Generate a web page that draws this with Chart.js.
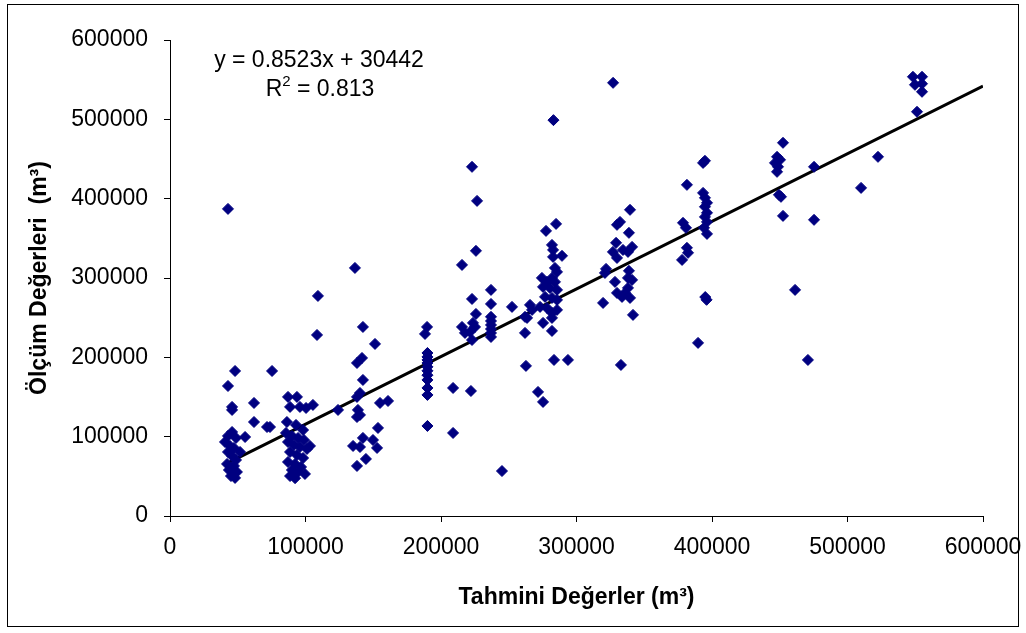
<!DOCTYPE html>
<html>
<head>
<meta charset="utf-8">
<script src="https://cdn.jsdelivr.net/npm/chart.js@4/dist/chart.umd.min.js"></script>
<style>
  body { margin: 0; background: #fff; }
</style>
</head>
<body>
<canvas id="olcumChart" width="1026" height="633"></canvas>
<script>
// tahmini (x) / olcum (y) pairs
const tahmini = [
  42800, 48000, 42800, 45800, 45800, 62000, 62000, 71600, 73800, 75300, 55400, 45800, 42800, 48700,
  40600, 44300, 47200, 51700, 42800, 45800, 48700, 42100, 47200, 43500, 49400, 45000, 48000,
  87100, 93700, 88600, 95900, 100400, 105500, 86300, 93000, 98200, 85600, 90000, 94500, 98900,
  87100, 91500, 95900, 101100, 88600, 93700, 98200, 87100, 92300, 96700, 90000, 94500, 88600,
  92300, 99600, 103300, 109200, 108500, 124000,
  136500, 138000, 141700, 142400, 151300, 142400, 140200, 138000, 138700, 140200, 138000, 135100,
  140200, 142400, 138000, 144600, 149800, 152800, 153500, 155000, 160900,
  189700, 188200, 190000, 190000, 190000, 190000, 190000, 190000, 190000, 190000, 190000, 190000,
  190000, 208900, 222100, 208900, 245000,
  222900, 226600, 225800, 215500, 236900, 222900, 236900, 225800, 223600, 225100, 215500, 217700,
  221400, 222900, 236900, 236900, 236900, 236900, 236900, 236900, 252400,
  262000, 263500, 265700, 267200, 262000, 262700, 271600, 275300, 277500, 284900, 281900, 282700,
  282700, 289300, 284100, 285600, 274500, 278200, 281900, 284100, 275300, 280400, 285600, 276800,
  281900, 285600, 273100, 278200, 281900, 285600, 275300, 281900, 281900, 283400, 293700, 283000,
  327000,
  321800, 321000, 338700, 339500, 332100, 329900, 338700, 329200, 326900, 329900, 334300, 341000,
  338000, 328400, 338000, 341000, 338000, 335800, 329900, 333600, 339500, 319600, 341700, 332800,
  393400, 394800, 381500, 378600, 380800, 381500, 382300, 377900, 393400, 394800, 396300, 394800,
  396300, 394800, 396300, 394100, 396300, 395000, 396000, 389700,
  452400, 448000, 450200, 446500, 448700, 448000, 449400, 450900, 452400, 475300, 475300, 461300,
  470800, 510000, 522500,
  548300, 555000, 549800, 555000, 555000, 551300
];
const olcum = [
  387100, 182800, 163900, 137500, 133700, 142500, 118500, 112200, 112200, 182800, 99600, 105900, 100900, 98400,
  93300, 88300, 85800, 80700, 80700, 75700, 70600, 65600, 63100, 58000, 55500, 50400, 48000,
  150100, 150100, 137500, 137500, 136200, 140000, 118500, 114800, 108400, 104700, 100900, 98400, 95800,
  93300, 89500, 87000, 84500, 80700, 76900, 73100, 68100, 65600, 61800, 58000, 55500, 50400,
  47700, 53000, 88300, 277400, 228200, 133700,
  312700, 192900, 199200, 238300, 216900, 171500, 155100, 150100, 133700, 127400, 124800, 88300,
  87000, 98400, 63100, 71900, 95800, 85800, 111000, 142500, 145000,
  238300, 229500, 205500, 200500, 196700, 192900, 188000, 183000, 177500, 171500, 161400, 152600,
  113500, 161400, 157600, 104700, 56700,
  440100, 397200, 334200, 316500, 285000, 273600, 267300, 254700, 243400, 238300, 238300, 230800,
  232000, 221900, 251000, 245800, 240800, 235700, 230700, 225700, 263600,
  251000, 249700, 266100, 259800, 230800, 189200, 156400, 143800, 359400, 368200, 341700, 335400,
  326600, 327900, 312700, 307700, 300100, 295100, 300100, 295100, 288800, 287500, 285000, 276200,
  274900, 272400, 263600, 262300, 256000, 259800, 243400, 249700, 233300, 196700, 196700, 499000,
  546000,
  311500, 306400, 309000, 385900, 370700, 367000, 356900, 344300, 332900, 325300, 335400, 339200,
  332900, 295100, 300100, 297600, 287500, 281200, 281200, 276200, 274900, 268600, 253500, 190400,
  445100, 447700, 417400, 369500, 363200, 338000, 331700, 322800, 407300, 401000, 394700, 389700,
  382100, 377000, 370700, 363200, 355600, 276000, 272500, 218200,
  470400, 452700, 448900, 445100, 440100, 433800, 404800, 402300, 378300, 440100, 373300, 285000,
  196700, 413600, 452700,
  553600, 553600, 543500, 544800, 534700, 509500
];
const xTicks = [0, 100000, 200000, 300000, 400000, 500000, 600000];
const yTicks = [0, 100000, 200000, 300000, 400000, 500000, 600000];

// Excel trendline
const egim = 0.8523;
const kesim = 30442;
const r2 = 0.813;
const trendX = [Math.min(...tahmini), 600000];

const FONT = '"Liberation Sans", Arial, sans-serif';

const points = tahmini.map((x, i) => ({ x: x, y: olcum[i] }));
const trend = trendX.map(x => ({ x: x, y: egim * x + kesim }));

const cerceve = {
  id: 'cerceve',
  beforeDraw(chart) {
    const ctx = chart.ctx;
    ctx.save();
    ctx.fillStyle = '#fff';
    ctx.fillRect(0, 0, chart.width, chart.height);
    ctx.restore();
  },
  afterDraw(chart) {
    const ctx = chart.ctx;
    ctx.save();
    ctx.strokeStyle = '#000';
    ctx.lineWidth = 1;
    ctx.strokeRect(7.5, 4.5, 1011, 622);
    ctx.fillStyle = '#000';
    ctx.font = '23px ' + FONT;
    ctx.textAlign = 'center';
    ctx.textBaseline = 'alphabetic';
    ctx.fillText('y = ' + egim + 'x + ' + kesim, 319, 67);
    // R^2 with a raised 2
    const rest = ' = ' + r2;
    const wR = ctx.measureText('R').width;
    const wRest = ctx.measureText(rest).width;
    ctx.font = '15px ' + FONT;
    const w2 = ctx.measureText('2').width;
    let x0 = 320 - (wR + w2 + wRest) / 2;
    ctx.textAlign = 'left';
    ctx.font = '23px ' + FONT;
    ctx.fillText('R', x0, 96);
    ctx.font = '15px ' + FONT;
    ctx.fillText('2', x0 + wR, 86);
    ctx.font = '23px ' + FONT;
    ctx.fillText(rest, x0 + wR + w2, 96);
    ctx.restore();
  }
};

new Chart('olcumChart', {
  type: 'scatter',
  data: {
    datasets: [
      {
        label: 'Ölçüm',
        data: points,
        pointStyle: 'rectRot',
        pointRadius: 5.5,
        backgroundColor: '#000080',
        borderColor: '#000080',
        borderWidth: 1
      },
      {
        type: 'line',
        label: 'Trend',
        data: trend,
        borderColor: '#000',
        borderWidth: 3,
        pointRadius: 0,
        fill: false
      }
    ]
  },
  options: {
    responsive: false,
    animation: false,
    layout: { padding: { left: 0, top: 40, right: 43, bottom: 0 } },
    plugins: {
      legend: { display: false },
      tooltip: { enabled: false }
    },
    scales: {
      x: {
        type: 'linear',
        min: 0,
        max: 600000,
        afterBuildTicks: s => { s.ticks = xTicks.map(v => ({ value: v })); },
        afterFit: s => { s.height = 117; s.paddingLeft = 0; s.paddingRight = 0; },
        grid: { drawOnChartArea: false, drawTicks: true, tickLength: 6, color: '#000' },
        border: { display: true, color: '#000', width: 1 },
        ticks: { color: '#000', font: { size: 23, family: FONT }, padding: 12, maxRotation: 0, callback: v => String(v) },
        title: {
          display: true,
          text: 'Tahmini Değerler (m³)',
          color: '#000',
          font: { size: 23, weight: 'bold', family: FONT },
          padding: { top: 0, bottom: 22 }
        }
      },
      y: {
        type: 'linear',
        min: 0,
        max: 600000,
        afterBuildTicks: s => { s.ticks = yTicks.map(v => ({ value: v })); },
        afterFit: s => { s.width = 170; s.paddingTop = 0; s.paddingBottom = 0; },
        grid: { drawOnChartArea: false, drawTicks: true, tickLength: 6, color: '#000' },
        border: { display: true, color: '#000', width: 1 },
        ticks: { color: '#000', font: { size: 23, family: FONT }, padding: 16, callback: v => String(v) },
        title: {
          display: true,
          text: 'Ölçüm Değerleri  (m³)',
          color: '#000',
          font: { size: 23, weight: 'bold', family: FONT },
          padding: { top: 26, bottom: 0 }
        }
      }
    }
  },
  plugins: [cerceve]
});
</script>
</body>
</html>
